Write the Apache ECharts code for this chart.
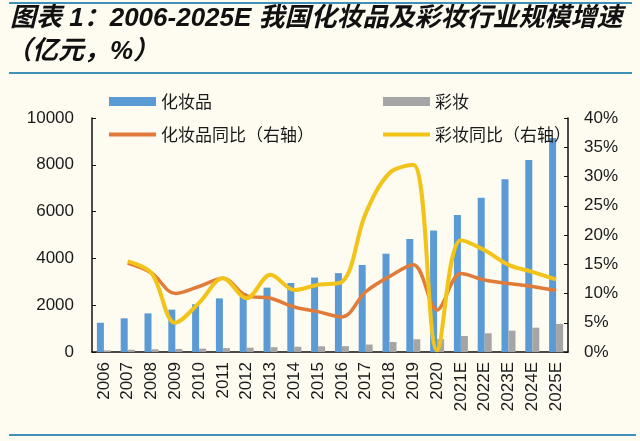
<!DOCTYPE html>
<html><head><meta charset="utf-8">
<script src="https://cdn.jsdelivr.net/npm/echarts@6/dist/echarts.min.js"></script>
<style>html,body{margin:0;padding:0;background:#FEFBF1;}#c{width:640px;height:441px;}</style>
</head><body><div id="c"></div>
<script>
var categories = ['2006','2007','2008','2009','2010','2011','2012','2013','2014','2015','2016','2017','2018','2019','2020','2021E','2022E','2023E','2024E','2025E'];
var cosmetics = [1250,1440,1650,1810,2040,2290,2520,2750,2950,3180,3370,3720,4200,4830,5190,5855,6595,7380,8205,9150];
var makeup = [70,95,115,130,145,165,185,205,225,245,250,320,430,545,550,685,800,910,1040,1200];
var cosmeticsYoY = [null,15.2,13.5,10.0,11.2,12.6,9.6,9.2,7.7,6.9,6.0,10.3,12.9,14.9,7.2,13.4,12.3,11.7,11.2,10.5];
var makeupYoY = [null,15.5,13.5,5.0,8.4,12.6,9.2,13.2,10.6,11.5,12.0,23.7,30.6,32.0,0.3,19.1,17.4,14.9,13.7,12.4];
var leftTicks = ['0','2000','4000','6000','8000','10000'];
var rightTicks = ['0%','5%','10%','15%','20%','25%','30%','35%','40%'];

var chart = echarts.init(document.getElementById('c'), null, {renderer:'canvas'});
var txt = '#1a1a1a';
var font = '"Liberation Sans", Arial, "Noto Sans CJK SC", sans-serif';
var cjk = '"Noto Sans CJK SC", sans-serif';
function lg(name, left, top, h) {
  return {data:[name], left:left, top:top, itemWidth:47, itemHeight:h, itemGap:0, icon:'rect',
    textStyle:{fontSize:17, color:txt, fontFamily:cjk}, selectedMode:false};
}
chart.setOption({
  backgroundColor:'#FEFBF1',
  animation:false,
  graphic:[
    {type:'line', shape:{x1:9,y1:3,x2:632,y2:3}, style:{stroke:'#3E90B8', lineWidth:2}},
    {type:'line', shape:{x1:9,y1:73,x2:632,y2:73}, style:{stroke:'#3E90B8', lineWidth:2}},
    {type:'line', shape:{x1:9,y1:435,x2:636,y2:435}, style:{stroke:'#3E90B8', lineWidth:2}},
    {type:'text', left:10, top:6, style:{text:'图表 1：2006-2025E 我国化妆品及彩妆行业规模增速', fontSize:26, fontWeight:'bold', fontStyle:'italic', fill:'#111', fontFamily:font}},
    {type:'text', left:6, top:39, style:{text:'（亿元，%）', fontSize:26, fontWeight:'bold', fontStyle:'italic', fill:'#111', fontFamily:font}}
  ],
  legend:[
    lg('化妆品',104,88,9),
    lg('彩妆',378,88,9),
    lg('化妆品同比（右轴）',104,121,4),
    lg('彩妆同比（右轴）',378,121,4)
  ],
  grid:{left:92, right:72, top:118, bottom:89},
  xAxis:{type:'category', data:categories, boundaryGap:true,
    axisLine:{lineStyle:{color:'#111', width:1.5}},
    axisTick:{inside:true, length:4, lineStyle:{color:'#111'}},
    axisLabel:{rotate:90, fontSize:17, color:txt, fontFamily:font, margin:10, interval:0}},
  yAxis:[
    {type:'value', min:0, max:10000, interval:2000, splitLine:{show:false},
     axisLine:{show:true, lineStyle:{color:'#111', width:1.5}},
     axisTick:{show:true, inside:true, length:4, lineStyle:{color:'#111'}},
     axisLabel:{fontSize:17, color:txt, fontFamily:font, margin:18, formatter:function(v){return leftTicks[v/2000];}}},
    {type:'value', min:0, max:40, interval:5, splitLine:{show:false},
     axisLine:{show:true, lineStyle:{color:'#111', width:1.5}},
     axisTick:{show:true, inside:true, length:4, lineStyle:{color:'#111'}},
     axisLabel:{fontSize:17, color:txt, fontFamily:font, margin:16, formatter:function(v){return rightTicks[v/5];}}}
  ],
  series:[
    {name:'化妆品', type:'bar', data:cosmetics, barWidth:7, barGap:'0%', itemStyle:{color:'#5B9BD5'}},
    {name:'彩妆', type:'bar', data:makeup, barWidth:7, barGap:'0%', itemStyle:{color:'#A5A5A5'}},
    {name:'化妆品同比（右轴）', type:'line', yAxisIndex:1, data:cosmeticsYoY, smooth:0.35, showSymbol:false,
     lineStyle:{color:'#E07B39', width:3.5}, itemStyle:{color:'#E07B39'}},
    {name:'彩妆同比（右轴）', type:'line', yAxisIndex:1, data:makeupYoY, smooth:0.35, showSymbol:false,
     lineStyle:{color:'#F2C318', width:4}, itemStyle:{color:'#F2C318'}}
  ]
});
</script></body></html>
